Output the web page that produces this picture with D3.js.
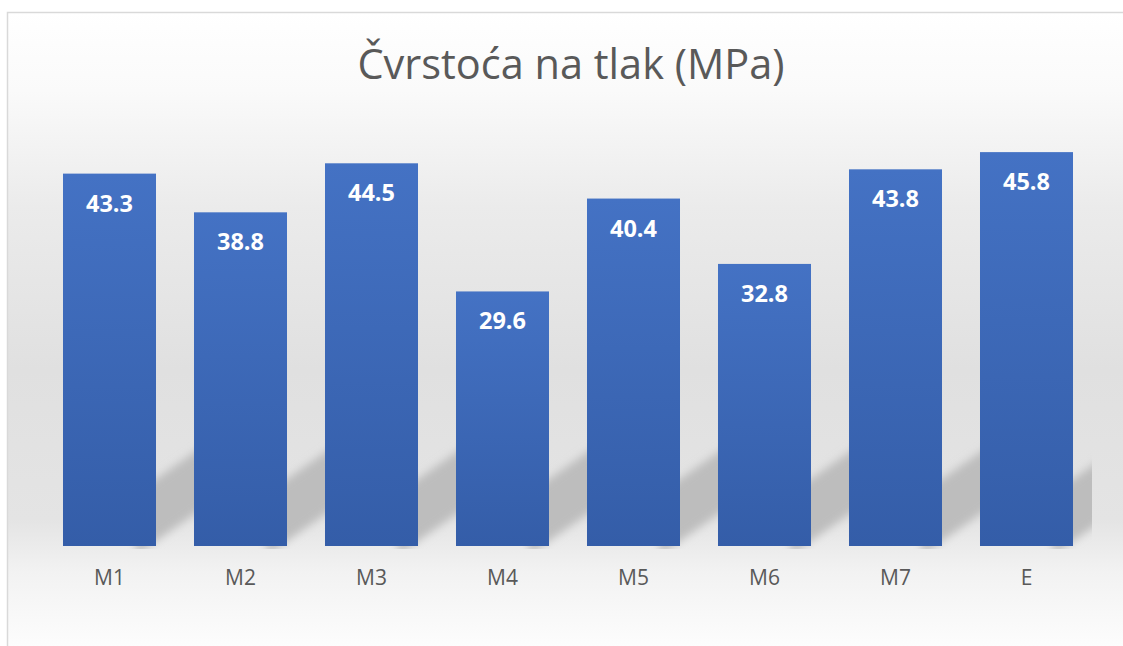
<!DOCTYPE html>
<html>
<head>
<meta charset="utf-8">
<script src="https://cdn.jsdelivr.net/npm/d3@7"></script>
<style>
  body { margin: 0; background: #fff; }
  svg { display: block; font-family: "Open Sans", "Noto Sans", sans-serif; }
</style>
</head>
<body>
<svg id="chart"></svg>
<script>
const title = 'Čvrstoća na tlak (MPa)';
const categories = ['M1', 'M2', 'M3', 'M4', 'M5', 'M6', 'M7', 'E'];
const values = [43.3, 38.8, 44.5, 29.6, 40.4, 32.8, 43.8, 45.8];
const yDomain = [0, 50];

class BarChart {

  constructor(_config) {
    this.config = {
      parentElement: _config.parentElement,
      width: 1123,
      height: 646,
      margin: {top: 116, right: 31, bottom: 100, left: 44}
    }
    this.initVis();
  }

  initVis() {
    let vis = this;

    vis.innerWidth = vis.config.width - vis.config.margin.left - vis.config.margin.right;
    vis.innerHeight = vis.config.height - vis.config.margin.top - vis.config.margin.bottom;

    vis.svg = d3.select(vis.config.parentElement)
        .attr('width', vis.config.width)
        .attr('height', vis.config.height);

    const defs = vis.svg.append('defs');

    // chart area background: white -> grey -> white
    const bg = defs.append('linearGradient')
        .attr('id', 'bg-grad')
        .attr('x1', 0).attr('y1', 0).attr('x2', 0).attr('y2', 1);
    [[0, '#ffffff'], [0.12, '#fafafa'], [0.3, '#ebebeb'], [0.55, '#e0e0e0'], [0.78, '#e4e4e4'],
     [0.86, '#f2f2f2'], [1, '#ffffff']].forEach(s => {
      bg.append('stop').attr('offset', s[0]).attr('stop-color', s[1]);
    });

    const barGrad = defs.append('linearGradient')
        .attr('id', 'bar-grad')
        .attr('x1', 0).attr('y1', 0).attr('x2', 0).attr('y2', 1);
    barGrad.append('stop').attr('offset', 0).attr('stop-color', '#4472c4');
    barGrad.append('stop').attr('offset', 1).attr('stop-color', '#345da8');

    defs.append('filter')
        .attr('id', 'blur')
        .attr('x', '-20%').attr('y', '-20%').attr('width', '140%').attr('height', '140%')
      .append('feGaussianBlur')
        .attr('stdDeviation', 4.5);

    defs.append('clipPath')
        .attr('id', 'plot-clip')
      .append('rect')
        .attr('x', 0).attr('y', 0)
        .attr('width', vis.innerWidth)
        .attr('height', vis.innerHeight + 3);

    // outer frame
    vis.svg.append('rect')
        .attr('x', 7.5).attr('y', 12.5)
        .attr('width', 1130).attr('height', 650)
        .attr('fill', 'url(#bg-grad)')
        .attr('stroke', '#d9d9d9')
        .attr('stroke-width', 1.5);

    vis.svg.append('text')
        .attr('x', 571)
        .attr('y', 79)
        .attr('text-anchor', 'middle')
        .attr('font-size', 41.5)
        .attr('fill', '#595959')
        .text(title);

    vis.chart = vis.svg.append('g')
        .attr('transform', `translate(${vis.config.margin.left},${vis.config.margin.top})`);

    vis.xScale = d3.scaleBand()
        .range([0, vis.innerWidth])
        .paddingInner(0.29)
        .paddingOuter(0.145);

    vis.yScale = d3.scaleLinear()
        .range([vis.innerHeight, 0]);

    vis.xAxis = d3.axisBottom(vis.xScale)
        .tickSize(0)
        .tickPadding(24);

    vis.shadowG = vis.chart.append('g')
        .attr('clip-path', 'url(#plot-clip)');
    vis.barG = vis.chart.append('g');
    vis.labelG = vis.chart.append('g');
    vis.xAxisG = vis.chart.append('g')
        .attr('transform', `translate(0,${vis.innerHeight})`);
  }

  updateVis() {
    let vis = this;
    vis.data = categories.map((c, i) => ({cat: c, value: values[i]}));
    vis.xScale.domain(categories);
    vis.yScale.domain(yDomain);
    vis.renderVis();
  }

  renderVis() {
    let vis = this;
    const y0 = vis.yScale(0);

    // slanted drop shadow behind each bar
    vis.shadowG.selectAll('.shadow')
        .data(vis.data)
      .join('polygon')
        .attr('class', 'shadow')
        .attr('points', d => {
          const x1 = vis.xScale(d.cat) + vis.xScale.bandwidth();
          const pts = [[x1 - 20, y0 + 9], [x1 + 60, y0 - 47], [x1 + 60, y0 - 109], [x1 - 20, y0 - 53]];
          return pts.map(p => p.join(',')).join(' ');
        })
        .attr('fill', '#bdbdbd')
        .attr('filter', 'url(#blur)');

    vis.barG.selectAll('.bar')
        .data(vis.data)
      .join('rect')
        .attr('class', 'bar')
        .attr('x', d => vis.xScale(d.cat))
        .attr('y', d => vis.yScale(d.value))
        .attr('width', vis.xScale.bandwidth())
        .attr('height', d => y0 - vis.yScale(d.value))
        .attr('fill', 'url(#bar-grad)');

    vis.labelG.selectAll('.label')
        .data(vis.data)
      .join('text')
        .attr('class', 'label')
        .attr('x', d => vis.xScale(d.cat) + vis.xScale.bandwidth() / 2)
        .attr('y', d => vis.yScale(d.value) + 38)
        .attr('text-anchor', 'middle')
        .attr('font-size', 23.5)
        .attr('font-weight', 'bold')
        .attr('fill', '#ffffff')
        .text(d => d3.format('.1f')(d.value));

    vis.xAxisG.call(vis.xAxis);
    vis.xAxisG.select('.domain').remove();
    vis.xAxisG.selectAll('text')
        .attr('font-family', '"Open Sans", "Noto Sans", sans-serif')
        .attr('font-size', 21)
        .attr('fill', '#595959');
  }
}

const chart = new BarChart({parentElement: '#chart'});
chart.updateVis();
</script>
</body>
</html>
